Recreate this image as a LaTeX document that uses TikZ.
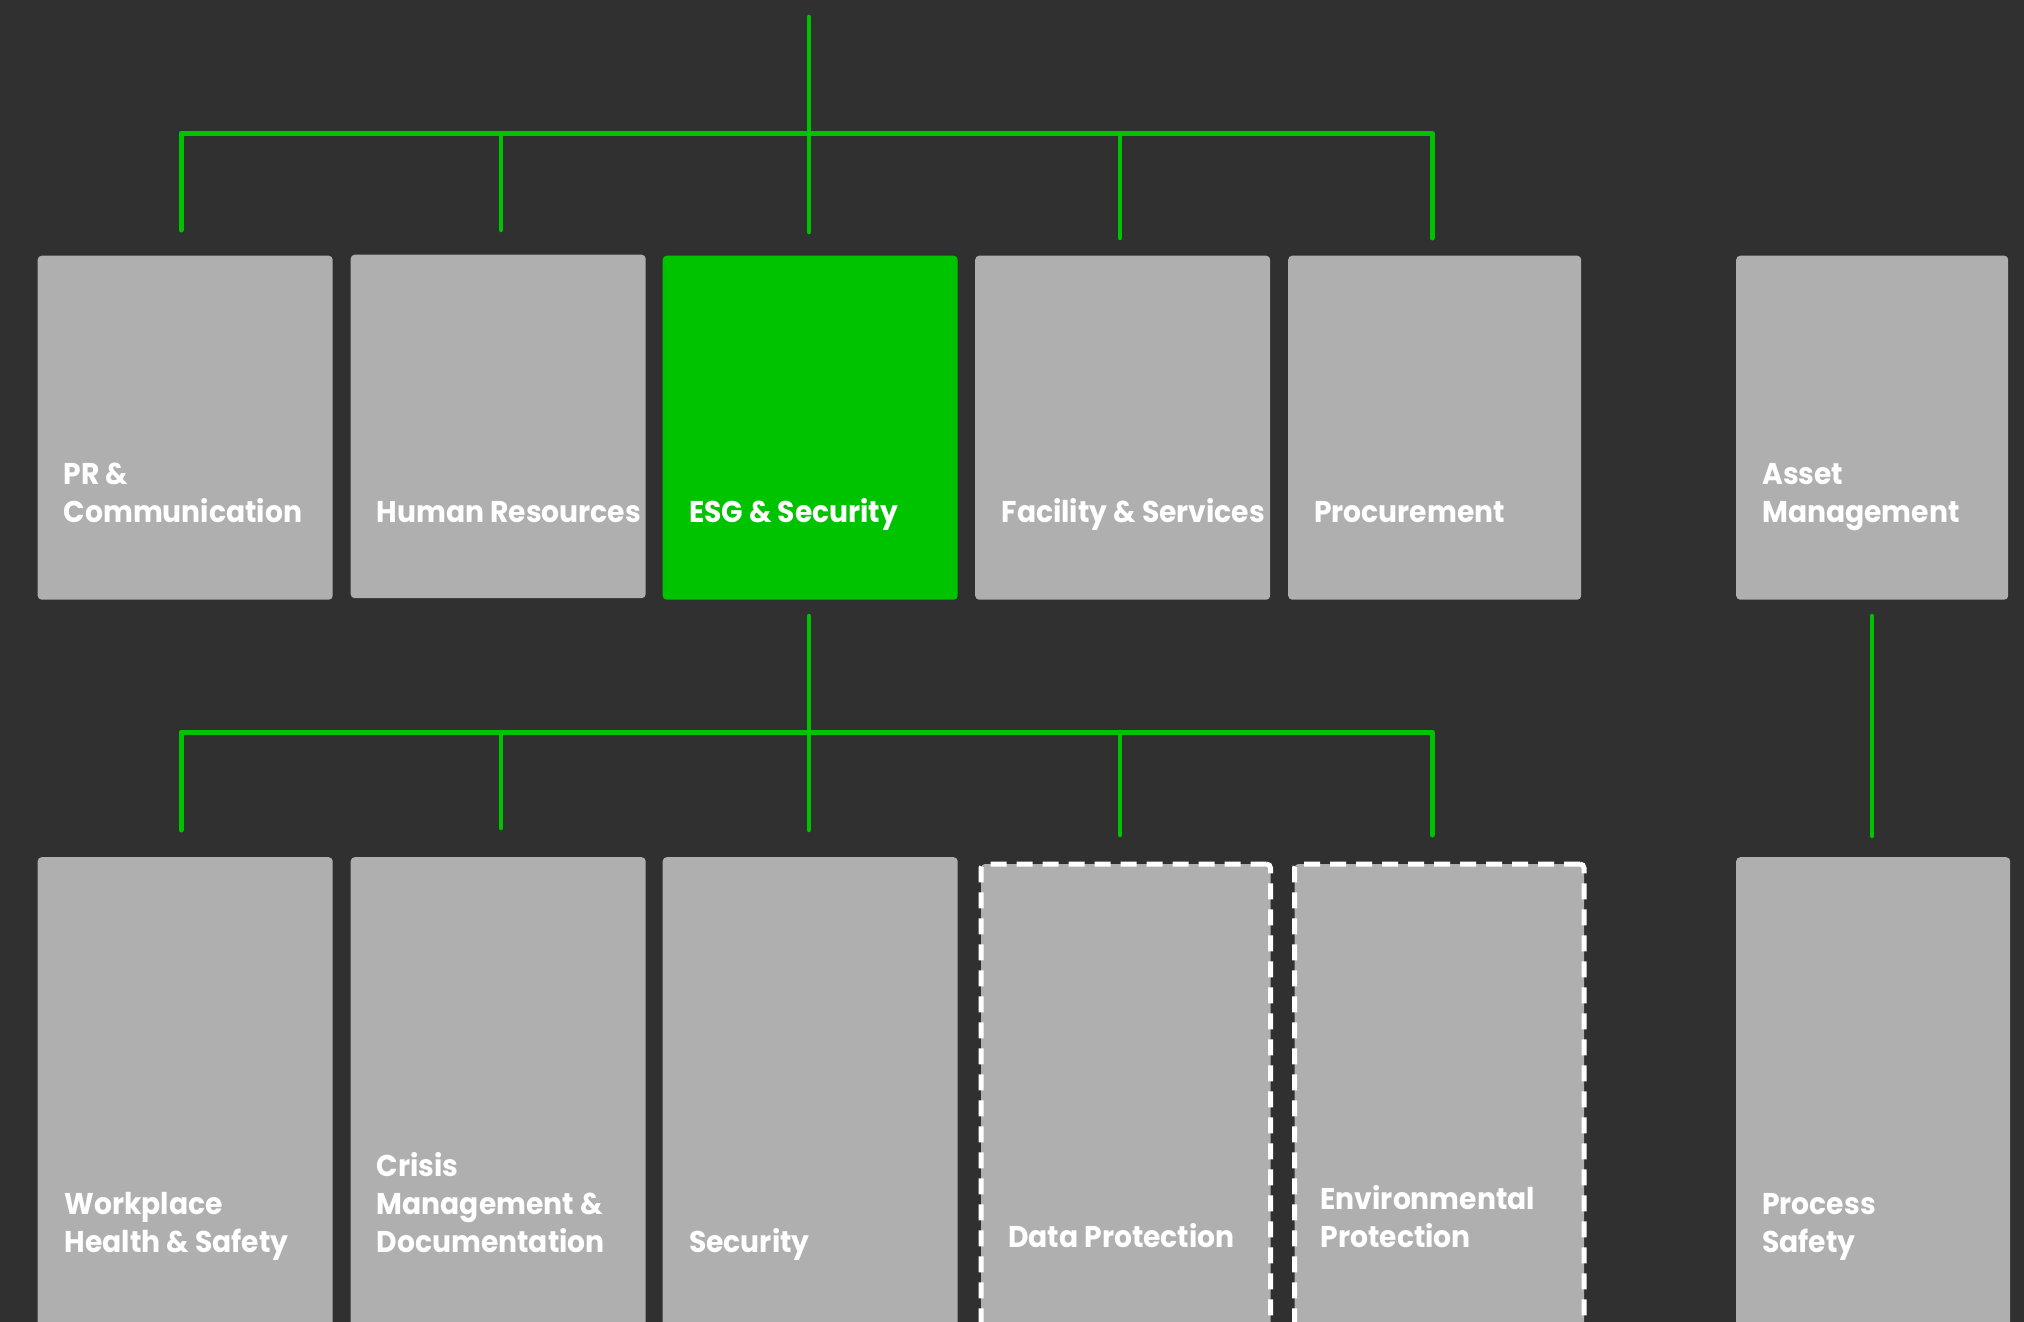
\documentclass[tikz,border=0pt]{standalone}
\usepackage{fontspec}
\setmainfont{Poppins}[FakeStretch=0.94]
\usetikzlibrary{calc}
\definecolor{bgdark}{HTML}{303030}
\definecolor{boxgray}{HTML}{AFAFAF}
\definecolor{brandgreen}{HTML}{00C300}
\begin{document}
\begin{tikzpicture}[x=1pt,y=-1pt,
  box/.style={fill=boxgray, draw=none, rounded corners=4pt, inner sep=0pt, anchor=north west, minimum width=#1},
  box/.default=295pt,
  topbox/.style={box=#1, minimum height=344pt},
  topbox/.default=295pt,
  lowbox/.style={box=#1, minimum height=500pt},
  lowbox/.default=295pt,
  dashbox/.style={lowbox=#1, draw=white, line width=5pt, dash pattern=on 16pt off 10pt},
  dashbox/.default=289.5pt,
  lbl/.style={text=white, font=\fontsize{30}{38}\selectfont\bfseries, align=left, anchor=base west, inner sep=0pt},
  conn/.style={draw=brandgreen, line width=4.5pt, line cap=round},
  bar/.style={draw=brandgreen, line width=5pt, line cap=round, line join=round}
]
\useasboundingbox (0,0) rectangle (2024,1322);
\clip (0,0) rectangle (2024,1322);
\fill[bgdark] (0,0) rectangle (2024,1322);

% top row boxes
\node[topbox] (b1) at (37.5,255.5) {};
\node[topbox, minimum height=343.5pt] (b2) at (350.5,254.5) {};
\node[topbox, fill=brandgreen] (b3) at (662.5,255.5) {};
\node[topbox] (b4) at (975,255.5) {};
\node[topbox=293pt] (b5) at (1288,255.5) {};
\node[topbox=272pt] (b6) at (1736,255.5) {};

% bottom row boxes
\node[lowbox] (c1) at (37.5,857) {};
\node[lowbox] (c2) at (350.5,857) {};
\node[lowbox] (c3) at (662.5,857) {};
\node[dashbox] (c4) at (978.5,861.5) {};
\node[dashbox] (c5) at (1292,861.5) {};
\node[lowbox=274pt] (c6) at (1736,857) {};

% labels (anchor = baseline of last line)
\node[lbl] (t1) at (63.5,522) {PR \&\\Communication};
\node[lbl] (t2) at (376.5,522) {Human Resources};
\node[lbl] (t3) at (689,522) {ESG \& Security};
\node[lbl] (t4) at (1001.5,522) {Facility \& Services};
\node[lbl] (t5) at (1314,522) {Procurement};
\node[lbl] (t6) at (1762,522) {Asset\\Management};

\node[lbl] (u1) at (64.5,1252) {Workplace\\Health \& Safety};
\node[lbl] (u2) at (376.5,1252) {Crisis\\Management \&\\Documentation};
\node[lbl] (u3) at (689,1252) {Security};
\node[lbl] (u4) at (1008,1247) {Data Protection};
\node[lbl] (u5) at (1320.5,1247) {Environmental\\Protection};
\node[lbl] (u6) at (1762,1252) {Process\\Safety};

% top connectors
\coordinate (root) at (809,17);
\coordinate (barAL) at (181,133);
\coordinate (barAR) at (1432,133);
\coordinate (dA1) at (181,230);
\coordinate (dA2) at (501,230);
\coordinate (dA3) at (809,232);
\coordinate (dA4) at (1120,238);
\coordinate (dA5) at (1432,238);
\draw[conn] (root) -- (dA3);
\draw[bar] (dA1) -- (barAL) -- (barAR) -- (dA5);
\draw[conn] (barAL -| dA2) -- (dA2);
\draw[conn] (barAL -| dA4) -- (dA4);

% middle connectors
\coordinate (srcB) at (809,616);
\coordinate (barBL) at (181,732);
\coordinate (barBR) at (1432,732);
\coordinate (dB1) at (181,830);
\coordinate (dB2) at (501,828);
\coordinate (dB3) at (809,830);
\coordinate (dB4) at (1120,835);
\coordinate (dB5) at (1432,835);
\draw[conn] (srcB) -- (dB3);
\draw[bar] (dB1) -- (barBL) -- (barBR) -- (dB5);
\draw[conn] (barBL -| dB2) -- (dB2);
\draw[conn] (barBL -| dB4) -- (dB4);

% right connector
\coordinate (srcC) at (1872,616);
\coordinate (dC) at (1872,836);
\draw[conn] (srcC) -- (dC);
\end{tikzpicture}
\end{document}
